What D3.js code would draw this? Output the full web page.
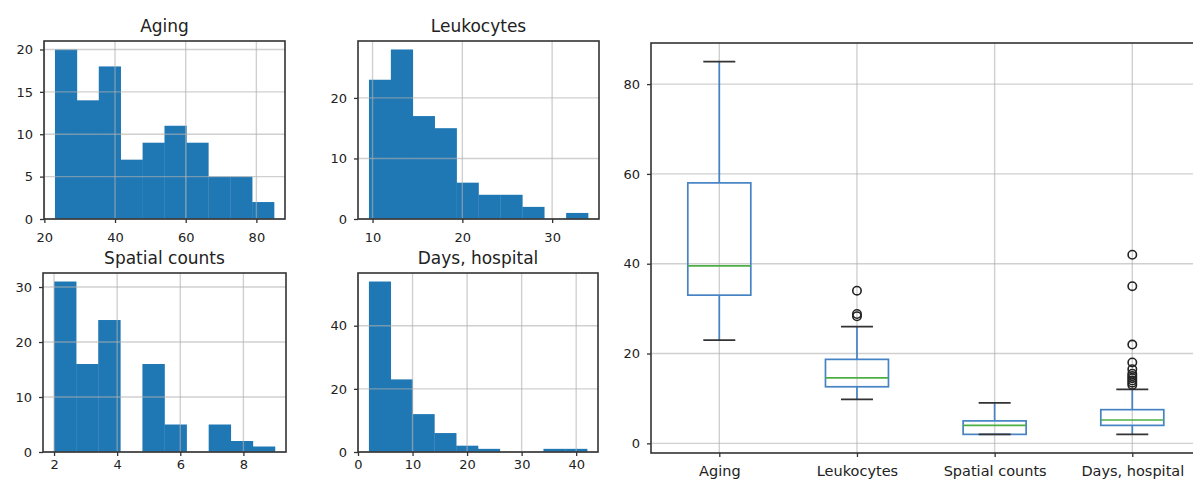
<!DOCTYPE html>
<html>
<head>
<meta charset="utf-8">
<script src="https://cdn.jsdelivr.net/npm/d3@7"></script>
<style>
  body { margin: 0; background: #fff; }
  text { font-family: "DejaVu Sans", sans-serif; fill: #222; }
</style>
</head>
<body>
<script>
// histogram counts (10 bins each) and bin ranges
const agingCounts = [20, 14, 18, 7, 9, 11, 9, 5, 5, 2]
const agingRange = [23, 85]
const leukoCounts = [23, 28, 17, 15, 6, 4, 4, 2, 0, 1]
const leukoRange = [9.6, 34]
const spatialCounts = [31, 16, 24, 0, 16, 5, 0, 5, 2, 1]
const spatialRange = [2, 9]
const daysCounts = [54, 23, 12, 6, 2, 1, 0, 0, 1, 1]
const daysRange = [2, 42]

// box plot stats
const boxNames = ["Aging", "Leukocytes", "Spatial counts", "Days, hospital"]
const whiskLow = [23, 9.8, 2, 2]
const q1 = [33, 12.6, 2, 4]
const medians = [39.5, 14.6, 4, 5.2]
const q3 = [58, 18.7, 5, 7.5]
const whiskHigh = [85, 26, 9, 12]
const outliers = [[], [28.3, 28.8, 34], [], [13, 13.5, 14, 14.5, 15, 15.5, 16.5, 18, 22, 35, 42]]
const boxTicks = [0, 20, 40, 60, 80]

const width = 1193
const height = 479
const blue = "#1f77b4"

const svg = d3.select("body")
    .append("svg")
    .attr("width", width)
    .attr("height", height)

function grid(g, x, y, xt, yt) {
    const [x0, x1] = x.range()
    const [y0, y1] = y.range()
    g.selectAll(".gx").data(xt).join("line")
        .attr("x1", d => x(d)).attr("x2", d => x(d))
        .attr("y1", y0).attr("y2", y1)
        .attr("stroke", "#b0b0b0").attr("stroke-opacity", 0.6).attr("stroke-width", 1.4)
    g.selectAll(".gy").data(yt).join("line")
        .attr("class", "gy")
        .attr("x1", x0).attr("x2", x1)
        .attr("y1", d => y(d)).attr("y2", d => y(d))
        .attr("stroke", "#b0b0b0").attr("stroke-opacity", 0.6).attr("stroke-width", 1.4)
}

function axes(g, x, y, xAxis, yAxis, xPad, xFont) {
    const [x0, x1] = x.range()
    const [y0, y1] = y.range()
    const xg = g.append("g")
        .attr("transform", `translate(0,${y0})`)
        .call(xAxis.tickSizeOuter(0).tickSize(4).tickPadding(xPad))
    const yg = g.append("g")
        .attr("transform", `translate(${x0},0)`)
        .call(yAxis.tickSizeOuter(0).tickSize(4).tickPadding(7))
    g.selectAll(".domain").remove()
    g.selectAll(".tick line").attr("stroke", "#333").attr("stroke-width", 1.3)
    yg.selectAll(".tick text").attr("font-size", 13).attr("fill", "#222")
    xg.selectAll(".tick text").attr("font-size", xFont).attr("fill", "#222")
    g.append("rect")
        .attr("x", x0).attr("y", y1)
        .attr("width", x1 - x0).attr("height", y0 - y1)
        .attr("fill", "none").attr("stroke", "#333").attr("stroke-width", 1.6)
}

function hist(title, counts, range, left, right, top, bottom, xDomain, xTicks, yTicks, xPad) {
    const g = svg.append("g")
    const x = d3.scaleLinear().domain(xDomain).range([left, right])
    const y = d3.scaleLinear().domain([0, d3.max(counts) * 1.05]).range([bottom, top])
    const step = (range[1] - range[0]) / counts.length
    const bins = counts.map((c, i) => ({ x0: range[0] + i * step, x1: range[0] + (i + 1) * step, c }))

    g.selectAll(".bar").data(bins).join("rect")
        .attr("x", d => x(d.x0))
        .attr("width", d => x(d.x1) - x(d.x0) + 0.3)
        .attr("y", d => y(d.c))
        .attr("height", d => y(0) - y(d.c))
        .attr("fill", blue)

    grid(g, x, y, xTicks, yTicks)
    axes(g, x, y, d3.axisBottom(x).tickValues(xTicks), d3.axisLeft(y).tickValues(yTicks), xPad, 13)

    g.append("text")
        .attr("x", (left + right) / 2)
        .attr("y", top - 9)
        .attr("text-anchor", "middle")
        .attr("font-size", 17)
        .text(title)
}

hist("Aging", agingCounts, agingRange, 44, 285, 41, 219, [19.9, 88.1], [20, 40, 60, 80], [0, 5, 10, 15, 20], 10)
hist("Leukocytes", leukoCounts, leukoRange, 358, 599, 41, 219, [8.38, 35.22], [10, 20, 30], [0, 10, 20], 10)
hist("Spatial counts", spatialCounts, spatialRange, 43, 286, 273, 452, [1.65, 9.35], [2, 4, 6, 8], [0, 10, 20, 30], 4)
hist("Days, hospital", daysCounts, daysRange, 358, 598, 273, 452, [0, 44], [0, 10, 20, 30, 40], [0, 20, 40], 4)

// box plot
const bg = svg.append("g")
const bx = d3.scalePoint().domain(boxNames).range([719.3, 1132.3])
const by = d3.scaleLinear().domain([-2.15, 89.15]).range([453, 43])
const bxl = d3.scaleLinear().domain([0, 1]).range([651, 1200])
const bw = 63
const capW = 32

grid(bg, bxl, by, [], boxTicks)
bg.selectAll(".gbx").data(boxNames).join("line")
    .attr("x1", d => bx(d)).attr("x2", d => bx(d))
    .attr("y1", 453).attr("y2", 43)
    .attr("stroke", "#b0b0b0").attr("stroke-opacity", 0.6).attr("stroke-width", 1.4)

const boxes = boxNames.map((name, i) => ({ name, lo: whiskLow[i], q1: q1[i], med: medians[i], q3: q3[i], hi: whiskHigh[i], out: outliers[i] }))

const bgs = bg.selectAll(".box").data(boxes).join("g")
bgs.append("line")
    .attr("x1", d => bx(d.name)).attr("x2", d => bx(d.name))
    .attr("y1", d => by(d.lo)).attr("y2", d => by(d.q1))
    .attr("stroke", "#4683c4").attr("stroke-width", 1.7)
bgs.append("line")
    .attr("x1", d => bx(d.name)).attr("x2", d => bx(d.name))
    .attr("y1", d => by(d.q3)).attr("y2", d => by(d.hi))
    .attr("stroke", "#4683c4").attr("stroke-width", 1.7)
bgs.append("rect")
    .attr("x", d => bx(d.name) - bw / 2)
    .attr("width", bw)
    .attr("y", d => by(d.q3))
    .attr("height", d => by(d.q1) - by(d.q3))
    .attr("fill", "none").attr("stroke", "#4683c4").attr("stroke-width", 1.7)
bgs.append("line")
    .attr("x1", d => bx(d.name) - bw / 2).attr("x2", d => bx(d.name) + bw / 2)
    .attr("y1", d => by(d.med)).attr("y2", d => by(d.med))
    .attr("stroke", "#4caf45").attr("stroke-width", 1.7)
bgs.selectAll(".cap").data(d => [{ n: d.name, v: d.lo }, { n: d.name, v: d.hi }]).join("line")
    .attr("x1", d => bx(d.n) - capW / 2).attr("x2", d => bx(d.n) + capW / 2)
    .attr("y1", d => by(d.v)).attr("y2", d => by(d.v))
    .attr("stroke", "#333").attr("stroke-width", 1.7)
bgs.selectAll(".flier").data(d => d.out.map(v => ({ n: d.name, v }))).join("circle")
    .attr("cx", d => bx(d.n))
    .attr("cy", d => by(d.v))
    .attr("r", 4.2)
    .attr("fill", "none").attr("stroke", "#222").attr("stroke-width", 1.6)

axes(bg, bxl, by, d3.axisBottom(bx), d3.axisLeft(by).tickValues(boxTicks), 9, 14.5)
</script>
</body>
</html>
